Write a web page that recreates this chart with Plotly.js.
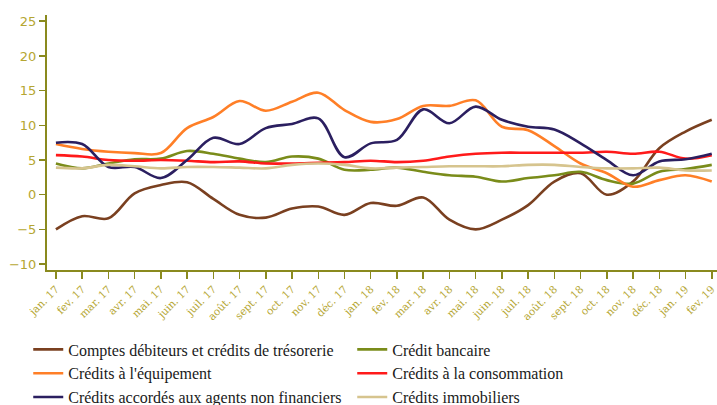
<!DOCTYPE html>
<html>
<head>
<meta charset="utf-8">
<script src="https://cdn.plot.ly/plotly-3.0.1.min.js"></script>
<style>html,body{margin:0;padding:0;background:#fff;}#chart{width:717px;height:405px;}</style>
</head>
<body>
<div id="chart"></div>
<script>
const months = ["jan. 17","fev. 17","mar. 17","avr. 17","mai. 17","juin. 17","juil. 17","août. 17","sept. 17","oct. 17","nov. 17","déc. 17",
  "jan. 18","fev. 18","mar. 18","avr. 18","mai. 18","juin. 18","juil. 18","août. 18","sept. 18","oct. 18","nov. 18","déc. 18",
  "jan. 19","fev. 19"];

const comptesDebiteurs = [-5.0,-3.1,-3.4,0.2,1.4,1.8,-0.6,-2.9,-3.3,-2.0,-1.7,-2.9,
  -1.2,-1.6,-0.4,-3.6,-5.0,-3.6,-1.5,1.9,3.1,0.0,1.9,6.7,9.1,10.8];
const creditBancaire = [4.5,3.8,4.5,5.1,5.2,6.3,5.9,5.2,4.7,5.5,5.2,3.6,
  3.6,3.9,3.3,2.8,2.6,1.9,2.4,2.8,3.3,2.1,1.6,3.3,3.7,4.3];
const creditsEquipement = [7.3,6.6,6.2,6.0,6.0,9.6,11.2,13.5,12.1,13.4,14.7,12.2,
  10.5,10.9,12.8,12.8,13.6,9.8,9.3,7.0,4.5,3.1,1.15,2.1,2.8,1.9];
const creditsConsommation = [5.7,5.5,5.0,4.9,5.0,4.9,4.7,4.8,4.5,4.5,4.6,4.7,
  4.9,4.7,4.9,5.5,5.9,6.05,6.05,6.05,6.05,6.2,5.9,6.2,5.2,5.7];
const creditsAgents = [7.5,7.3,4.0,4.0,2.4,5.0,8.2,7.3,9.6,10.2,11.0,5.4,
  7.4,7.9,12.3,10.3,12.7,10.8,9.8,9.4,7.4,5.0,2.8,4.8,5.1,5.9];
const creditsImmobiliers = [3.9,3.8,4.3,4.1,3.8,4.0,4.0,3.9,3.8,4.3,4.5,4.3,
  3.8,3.9,4.0,4.1,4.1,4.1,4.3,4.3,4.0,3.8,3.8,3.9,3.5,3.5];

const seriesNames = ["Comptes débiteurs et crédits de trésorerie","Crédit bancaire","Crédits à l'équipement",
  "Crédits à la consommation","Crédits accordés aux agents non financiers","Crédits immobiliers"];
const seriesData = [comptesDebiteurs, creditBancaire, creditsEquipement, creditsConsommation, creditsAgents, creditsImmobiliers];
const seriesColors = ["#7a4020","#7a8c1a","#ff7f27","#ff1a1a","#2b1f60","#d6c48e"];

const traces = seriesNames.map((n,i)=>({
  type:'scatter', mode:'lines', name:n, x:months, y:seriesData[i],
  line:{color:seriesColors[i], width:2.6, shape:'spline', smoothing:1}
}));

const axisColor = "#8a8a1e";
const tickColor = "#b5a632";
const layout = {
  width:717, height:405,
  margin:{l:47, r:0, t:15, b:135, autoexpand:false},
  paper_bgcolor:'#fff', plot_bgcolor:'#fff',
  showlegend:true,
  xaxis:{type:'category', range:[-0.34,25.2], showgrid:false, zeroline:false,
    showline:true, linecolor:axisColor, linewidth:2, ticks:'outside', ticklen:7, tickwidth:1.5, tickcolor:axisColor,
    tickangle:-45, tickfont:{family:'DejaVu Serif', size:10.5, color:tickColor}},
  yaxis:{range:[-10.85,25.9], tickvals:[-10,-5,0,5,10,15,20,25], showgrid:false, zeroline:false,
    showline:true, linecolor:axisColor, linewidth:2, ticks:'outside', ticklen:6, tickwidth:1.5, tickcolor:axisColor,
    tickfont:{family:'DejaVu Sans', size:13, color:tickColor}},
  legend:{orientation:'h', x:-0.028, xanchor:'left', y:-0.245, yanchor:'top',
    entrywidth:279, entrywidthmode:'pixels', tracegroupgap:0,
    font:{family:'Liberation Serif', size:16, color:'#1a1a1a'}, bgcolor:'rgba(0,0,0,0)'}
};
Plotly.newPlot('chart', traces, layout, {displayModeBar:false, staticPlot:true});
</script>
</body>
</html>
